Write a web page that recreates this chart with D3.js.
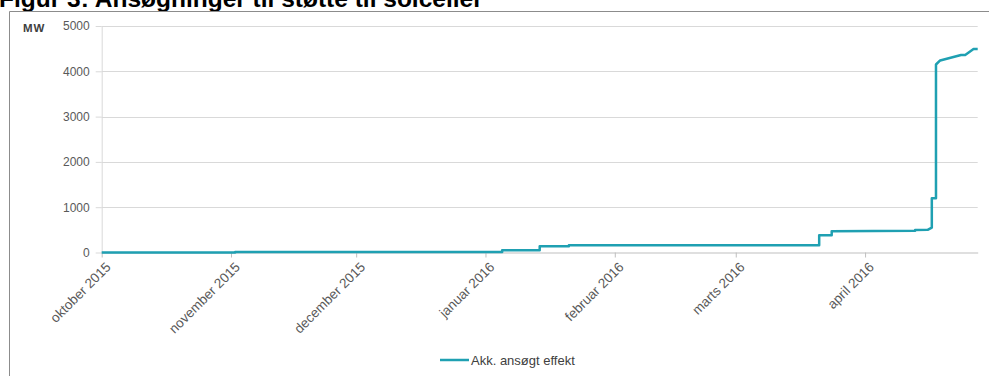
<!DOCTYPE html>
<html>
<head>
<meta charset="utf-8">
<script src="https://cdn.jsdelivr.net/npm/d3@7"></script>
<style>
  body { margin: 0; background: #fff; }
  svg { display: block; font-family: "Liberation Sans", Arial, sans-serif; }
</style>
</head>
<body>
<div id="chart"></div>
<script>
// Akkumuleret ansøgt effekt (MW) - trappekurve, dubletdatoer giver lodrette trin
const dates = [
  "2015-10-01", "2015-11-02", "2015-11-02", "2016-01-05", "2016-01-05",
  "2016-01-14", "2016-01-14", "2016-01-21", "2016-01-21", "2016-03-21",
  "2016-03-21", "2016-03-24", "2016-03-24", "2016-04-13", "2016-04-13",
  "2016-04-16", "2016-04-17", "2016-04-17", "2016-04-18", "2016-04-18",
  "2016-04-19", "2016-04-24", "2016-04-25", "2016-04-27", "2016-04-28"
];
const values = [
  0, 0, 12, 12, 50,
  50, 140, 140, 160, 160,
  380, 380, 470, 480, 497,
  500, 550, 1200, 1200, 4150,
  4240, 4360, 4360, 4490, 4490
];
const yTicks = [0, 1000, 2000, 3000, 4000, 5000];
const xTickDates = ["2015-10-01", "2015-11-01", "2015-12-01", "2016-01-01",
                    "2016-02-01", "2016-03-01", "2016-04-01"];
const monthNames = ["januar", "februar", "marts", "april", "maj", "juni", "juli",
                    "august", "september", "oktober", "november", "december"];
const domainEnd = "2016-04-28";

const parse = d3.timeParse("%Y-%m-%d");
const data = dates.map((d, i) => ({ date: parse(d), value: values[i] }));

const W = 989, H = 376;
const margin = { top: 26, right: 11.3, bottom: 123.5, left: 101.7 };
const width = W - margin.left - margin.right;
const height = H - margin.top - margin.bottom;

const svg = d3.select("#chart").append("svg")
    .attr("width", W)
    .attr("height", H);

// Title (cut off at the top in the source)
svg.append("text")
    .attr("x", -1)
    .attr("y", 7)
    .attr("font-size", "24.5px")
    .attr("font-weight", "bold")
    .attr("fill", "#000")
    .text("Figur 3: Ansøgninger til støtte til solceller");

// Chart frame (only top and left edges fall inside the picture)
svg.append("path")
    .attr("d", `M9.5,${H + 5}V11.5H${W + 5}`)
    .attr("fill", "none")
    .attr("stroke", "#8c8c8c")
    .attr("stroke-width", 1);

const g = svg.append("g")
    .attr("transform", `translate(${margin.left},${margin.top})`);

const x = d3.scaleTime()
    .domain([parse(dates[0]), parse(domainEnd)])
    .range([0, width]);

const y = d3.scaleLinear()
    .domain([0, 5000])
    .range([height, 0]);

// Gridlines
g.append("g")
    .selectAll("line")
    .data(yTicks.filter(d => d > 0))
    .enter()
    .append("line")
    .attr("x1", 0)
    .attr("x2", width)
    .attr("y1", d => Math.round(y(d)) + 0.5)
    .attr("y2", d => Math.round(y(d)) + 0.5)
    .attr("stroke", "#d9d9d9")
    .attr("stroke-width", 1);

// Y axis
const yAxis = g.append("g")
    .call(d3.axisLeft(y).tickValues(yTicks).tickFormat(d3.format("d"))
        .tickSize(6).tickSizeOuter(0).tickPadding(6));
yAxis.select(".domain").attr("stroke", "#d9d9d9");
yAxis.selectAll(".tick line").attr("stroke", "#d9d9d9");
yAxis.selectAll(".tick text")
    .attr("font-size", "12px")
    .attr("font-family", "Liberation Sans, Arial, sans-serif")
    .attr("fill", "#595959");

// X axis
const xAxis = g.append("g")
    .attr("transform", `translate(0,${height})`)
    .call(d3.axisBottom(x)
        .tickValues(xTickDates.map(parse))
        .tickSize(5)
        .tickSizeOuter(0)
        .tickFormat(d => `${monthNames[d.getMonth()]} ${d.getFullYear()}`));
xAxis.select(".domain").attr("stroke", "#bfbfbf");
xAxis.selectAll(".tick line").attr("stroke", "#bfbfbf");
xAxis.selectAll(".tick text")
    .attr("font-size", "13.5px")
    .attr("font-family", "Liberation Sans, Arial, sans-serif")
    .attr("fill", "#595959")
    .attr("text-anchor", "end")
    .attr("transform", "translate(6,12) rotate(-45)")
    .attr("y", 0)
    .attr("dy", "0.35em");

// Line
const line = d3.line()
    .x(d => x(d.date))
    .y(d => y(d.value));

g.append("path")
    .datum(data)
    .attr("fill", "none")
    .attr("stroke", "#1fa0b2")
    .attr("stroke-width", 2.5)
    .attr("stroke-linejoin", "round")
    .attr("d", line);

// MW label
svg.append("text")
    .attr("x", 23)
    .attr("y", 32)
    .attr("font-size", "11.5px")
    .attr("font-weight", "bold")
    .attr("letter-spacing", "1px")
    .attr("fill", "#404040")
    .text("MW");

// Legend
const legend = svg.append("g")
    .attr("transform", "translate(440,360)");
legend.append("line")
    .attr("x1", 0)
    .attr("x2", 29)
    .attr("y1", 0)
    .attr("y2", 0)
    .attr("stroke", "#1fa0b2")
    .attr("stroke-width", 2.5);
legend.append("text")
    .attr("x", 31)
    .attr("y", 4.5)
    .attr("font-size", "13px")
    .attr("fill", "#404040")
    .text("Akk. ansøgt effekt");
</script>
</body>
</html>
